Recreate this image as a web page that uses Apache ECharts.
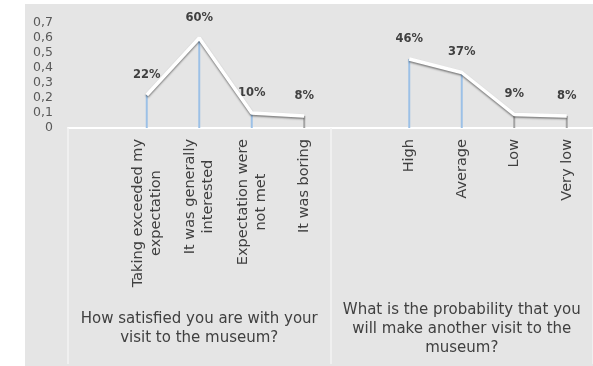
<!DOCTYPE html>
<html>
<head>
<meta charset="utf-8">
<script src="https://cdn.jsdelivr.net/npm/echarts@6/dist/echarts.min.js"></script>
<style>
  html, body { margin: 0; padding: 0; background: #ffffff; }
  #chart { position: absolute; left: 25px; top: 4px; width: 568px; height: 362px; background: #e5e5e5; }
</style>
</head>
<body>
<div id="chart"></div>
<script>
// Survey answers, two questions side by side; empty slots pad each group.
const categories = [
  '',
  'Taking exceeded my\nexpectation',
  'It was generally\ninterested',
  'Expectation were\nnot met',
  'It was boring',
  '',
  'High',
  'Average',
  'Low',
  'Very low'
];
const shares = [null, 0.22, 0.60, 0.10, 0.08, null, 0.46, 0.37, 0.09, 0.08];
const dropColors = ['', 'blue', 'blue', 'blue', 'gray', '', 'blue', 'blue', 'gray', 'gray'];
const questions = [
  'How satisfied you are with your\nvisit to the museum?',
  'What is the probability that you\nwill make another visit to the\nmuseum?'
];
const yTicks = ['0', '0,1', '0,2', '0,3', '0,4', '0,5', '0,6', '0,7'];

const FONT = 'DejaVu Sans';
const palette = { blue: '#9cc0e6', gray: '#a3a3a3' };

const chart = echarts.init(document.getElementById('chart'));
chart.setOption({
  animation: false,
  backgroundColor: 'transparent',
  grid: { left: 43, top: 19, width: 533, height: 105 },
  xAxis: [
    {
      type: 'category',
      data: categories,
      position: 'bottom',
      boundaryGap: true,
      axisLine: { show: true, lineStyle: { color: '#ffffff', width: 2 } },
      axisTick: { show: false },
      axisLabel: {
        interval: 0,
        rotate: 90,
        margin: 11,
        fontFamily: FONT,
        fontSize: 14.5,
        color: '#404040',
        lineHeight: 18,
        formatter: function (v) {
          return v.split('\n').map(function (s) { return '{c|' + s + '}'; }).join('\n');
        },
        rich: { c: { align: 'center', fontFamily: FONT, fontSize: 14.5, color: '#404040', lineHeight: 18 } }
      },
      splitLine: { show: false }
    },
    {
      type: 'category',
      data: questions,
      position: 'bottom',
      offset: 0,
      boundaryGap: true,
      axisLine: { show: false },
      axisTick: { show: true, interval: 0, length: 236, lineStyle: { color: '#f3f3f3', width: 1.5 } },
      axisLabel: {
        interval: 0,
        margin: 201,
        verticalAlign: 'middle',
        align: 'center',
        fontFamily: FONT,
        fontSize: 15,
        lineHeight: 19,
        color: '#404040'
      },
      splitLine: { show: false }
    }
  ],
  yAxis: {
    type: 'value',
    min: 0,
    max: 0.7,
    interval: 0.1,
    axisLine: { show: false },
    axisTick: { show: false },
    splitLine: { show: false },
    axisLabel: {
      margin: 15,
      fontFamily: FONT,
      fontSize: 12.5,
      color: '#595959',
      formatter: function (v) { return yTicks[Math.round(v * 10)]; }
    }
  },
  series: [
    {
      // drop lines from each answer down to the axis, carrying the percentage labels
      type: 'bar',
      xAxisIndex: 0,
      barWidth: 2,
      data: shares.map(function (v, i) {
        return v == null ? null : { value: v, itemStyle: { color: palette[dropColors[i]] } };
      }),
      label: {
        show: true,
        position: 'top',
        distance: 14,
        fontFamily: FONT,
        fontSize: 11.5,
        fontWeight: 'bold',
        color: '#404040',
        formatter: function (p) { return Math.round(p.value * 100) + '%'; }
      },
      z: 2
    },
    {
      type: 'line',
      xAxisIndex: 0,
      data: shares,
      connectNulls: false,
      symbol: 'none',
      lineStyle: {
        color: '#ffffff',
        width: 3.5,
        shadowColor: 'rgba(0,0,0,0.45)',
        shadowBlur: 2,
        shadowOffsetY: 1.5
      },
      z: 3
    }
  ]
});
</script>
</body>
</html>
